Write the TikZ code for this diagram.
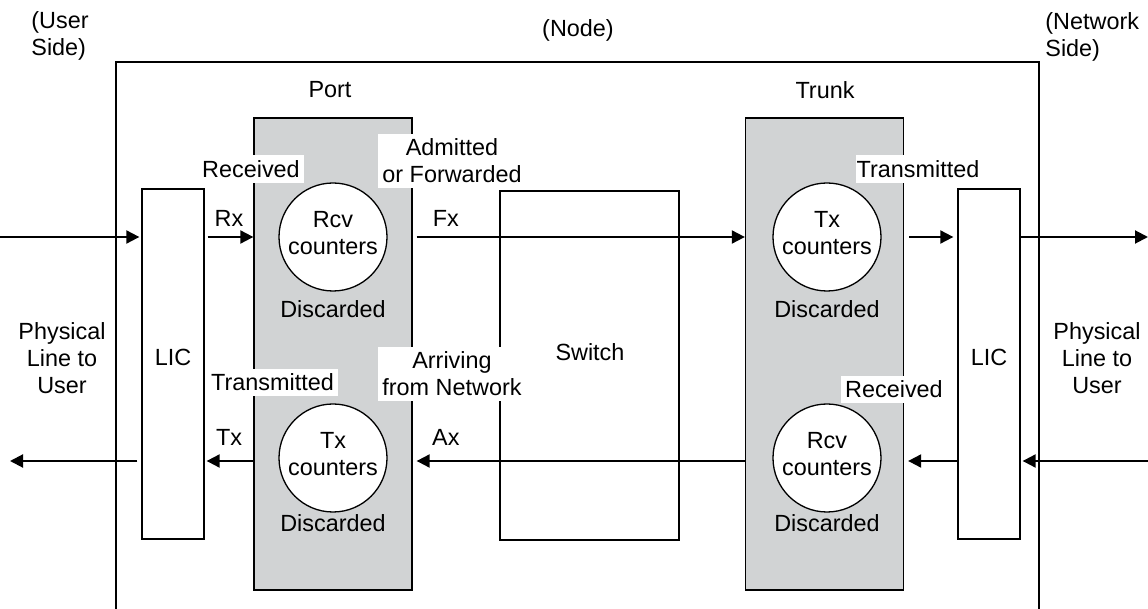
\documentclass[tikz,border=0pt]{standalone}
\usepackage{fontspec}
\setmainfont{Liberation Sans}
\usepackage{tikz}
\usetikzlibrary{positioning,arrows.meta}
\definecolor{cardgray}{RGB}{209,211,212}

\begin{document}
\begin{tikzpicture}[
      x=0.5pt, y=-0.5pt,
      >={Triangle[length=6.5pt,width=6.5pt]},
      every node/.style={font=\fontsize{11.7}{13.5}\selectfont,align=center},
      box/.style={draw,line width=0.65pt,inner sep=0pt},
      card/.style={box,fill=cardgray,minimum width=79pt,minimum height=236pt},
      lic/.style={box,minimum width=31pt,minimum height=175pt},
      ctr/.style={box,circle,fill=white,minimum size=54pt,text depth=4.5pt},
      tag/.style={fill=white,inner xsep=2pt,inner ysep=2.5pt},
      flow/.style={->,line width=1pt},
    ]
    \useasboundingbox (0,0) rectangle (1148,609);

    % Node frame
    \draw[line width=0.65pt] (116,609) |- (1039,62) -- (1039,609);
    \node at (578,30) {(Node)};
    \node[align=left,anchor=north west,inner sep=0pt] (user) at (31,11) {(User\\Side)};
    \node[align=left,anchor=north west,inner sep=0pt] (network) at (1045,12) {(Network\\Side)};

    % Nodes
    \node[card] (port) at (333,354) {};
    \node[card] (trunk) at (824.5,354) {};
    \node[box,minimum width=89.5pt,minimum height=174.5pt] (switch) at (589.5,365.5) {};
    \node[lic] (licl) at (173,364) {};
    \node[lic] (licr) at (989,364) {};
    \node at (330,90) {Port};
    \node at (825,90) {Trunk};
    \node at (590,352) {Switch};
    \node at (173,357) {LIC};
    \node at (989,357) {LIC};
    \node at (62,358) {Physical\\Line to\\User};
    \node at (1097,358) {Physical\\Line to\\User};

    % Counters
    \node[ctr] (rcvp) at (333,237) {Rcv\\counters};
    \node[ctr] (txp) at (333,458) {Tx\\counters};
    \node[ctr] (txt) at (827,237) {Tx\\counters};
    \node[ctr] (rcvt) at (827,458) {Rcv\\counters};
    \node at (333,309) {Discarded};
    \node at (333,523) {Discarded};
    \node at (827,309) {Discarded};
    \node at (827,523) {Discarded};

    % Arrows
    \coordinate (inl) at (0,237);
    \coordinate (outl) at (10,461);
    \coordinate (outr) at (1148,237);
    \coordinate (inr) at (1148,461);
    \draw[flow,shorten >=1pt] (inl) -- (inl -| licl.west);
    \draw[flow,shorten <=1.5pt] (licl.east |- inl) -- node[above=1.2pt]{Rx} (port.west |- inl);
    \draw[flow,shorten <=2pt] (port.east |- inl) -- node[pos=0.1,above=1.2pt]{Fx} (trunk.west |- inl);
    \draw[flow,shorten <=2.5pt,shorten >=2pt] (trunk.east |- inl) -- (licr.west |- inl);
    \draw[flow] (licr.east |- inl) -- (outr);
    \draw[flow,shorten >=1pt] (inr) -- (licr.east |- inr);
    \draw[flow,shorten >=2pt] (licr.west |- inr) -- (trunk.east |- inr);
    \draw[flow,shorten >=2pt] (trunk.west |- inr) -- node[pos=0.9,above=4pt]{Ax} (port.east |- inr);
    \draw[flow,shorten >=1pt] (port.west |- inr) -- node[above=4pt]{Tx} (licl.east |- inr);
    \draw[flow,shorten <=2pt] (licl.west |- inr) -- (outl);

    % Counter labels
    \node[tag] (rcvdp) at (251,169) {Received};
    \node[tag] (admp) at (452,161) {Admitted\\or Forwarded};
    \node[tag] (xmitp) at (272.5,382.5) {Transmitted};
    \node[tag] (arrp) at (452,374) {Arriving\\from Network};
    \node[tag,inner xsep=0.5pt] (xmitt) at (918,169) {Transmitted};
    \node[tag] (rcvdt) at (894,389.5) {Received};
  \end{tikzpicture}
\end{document}
